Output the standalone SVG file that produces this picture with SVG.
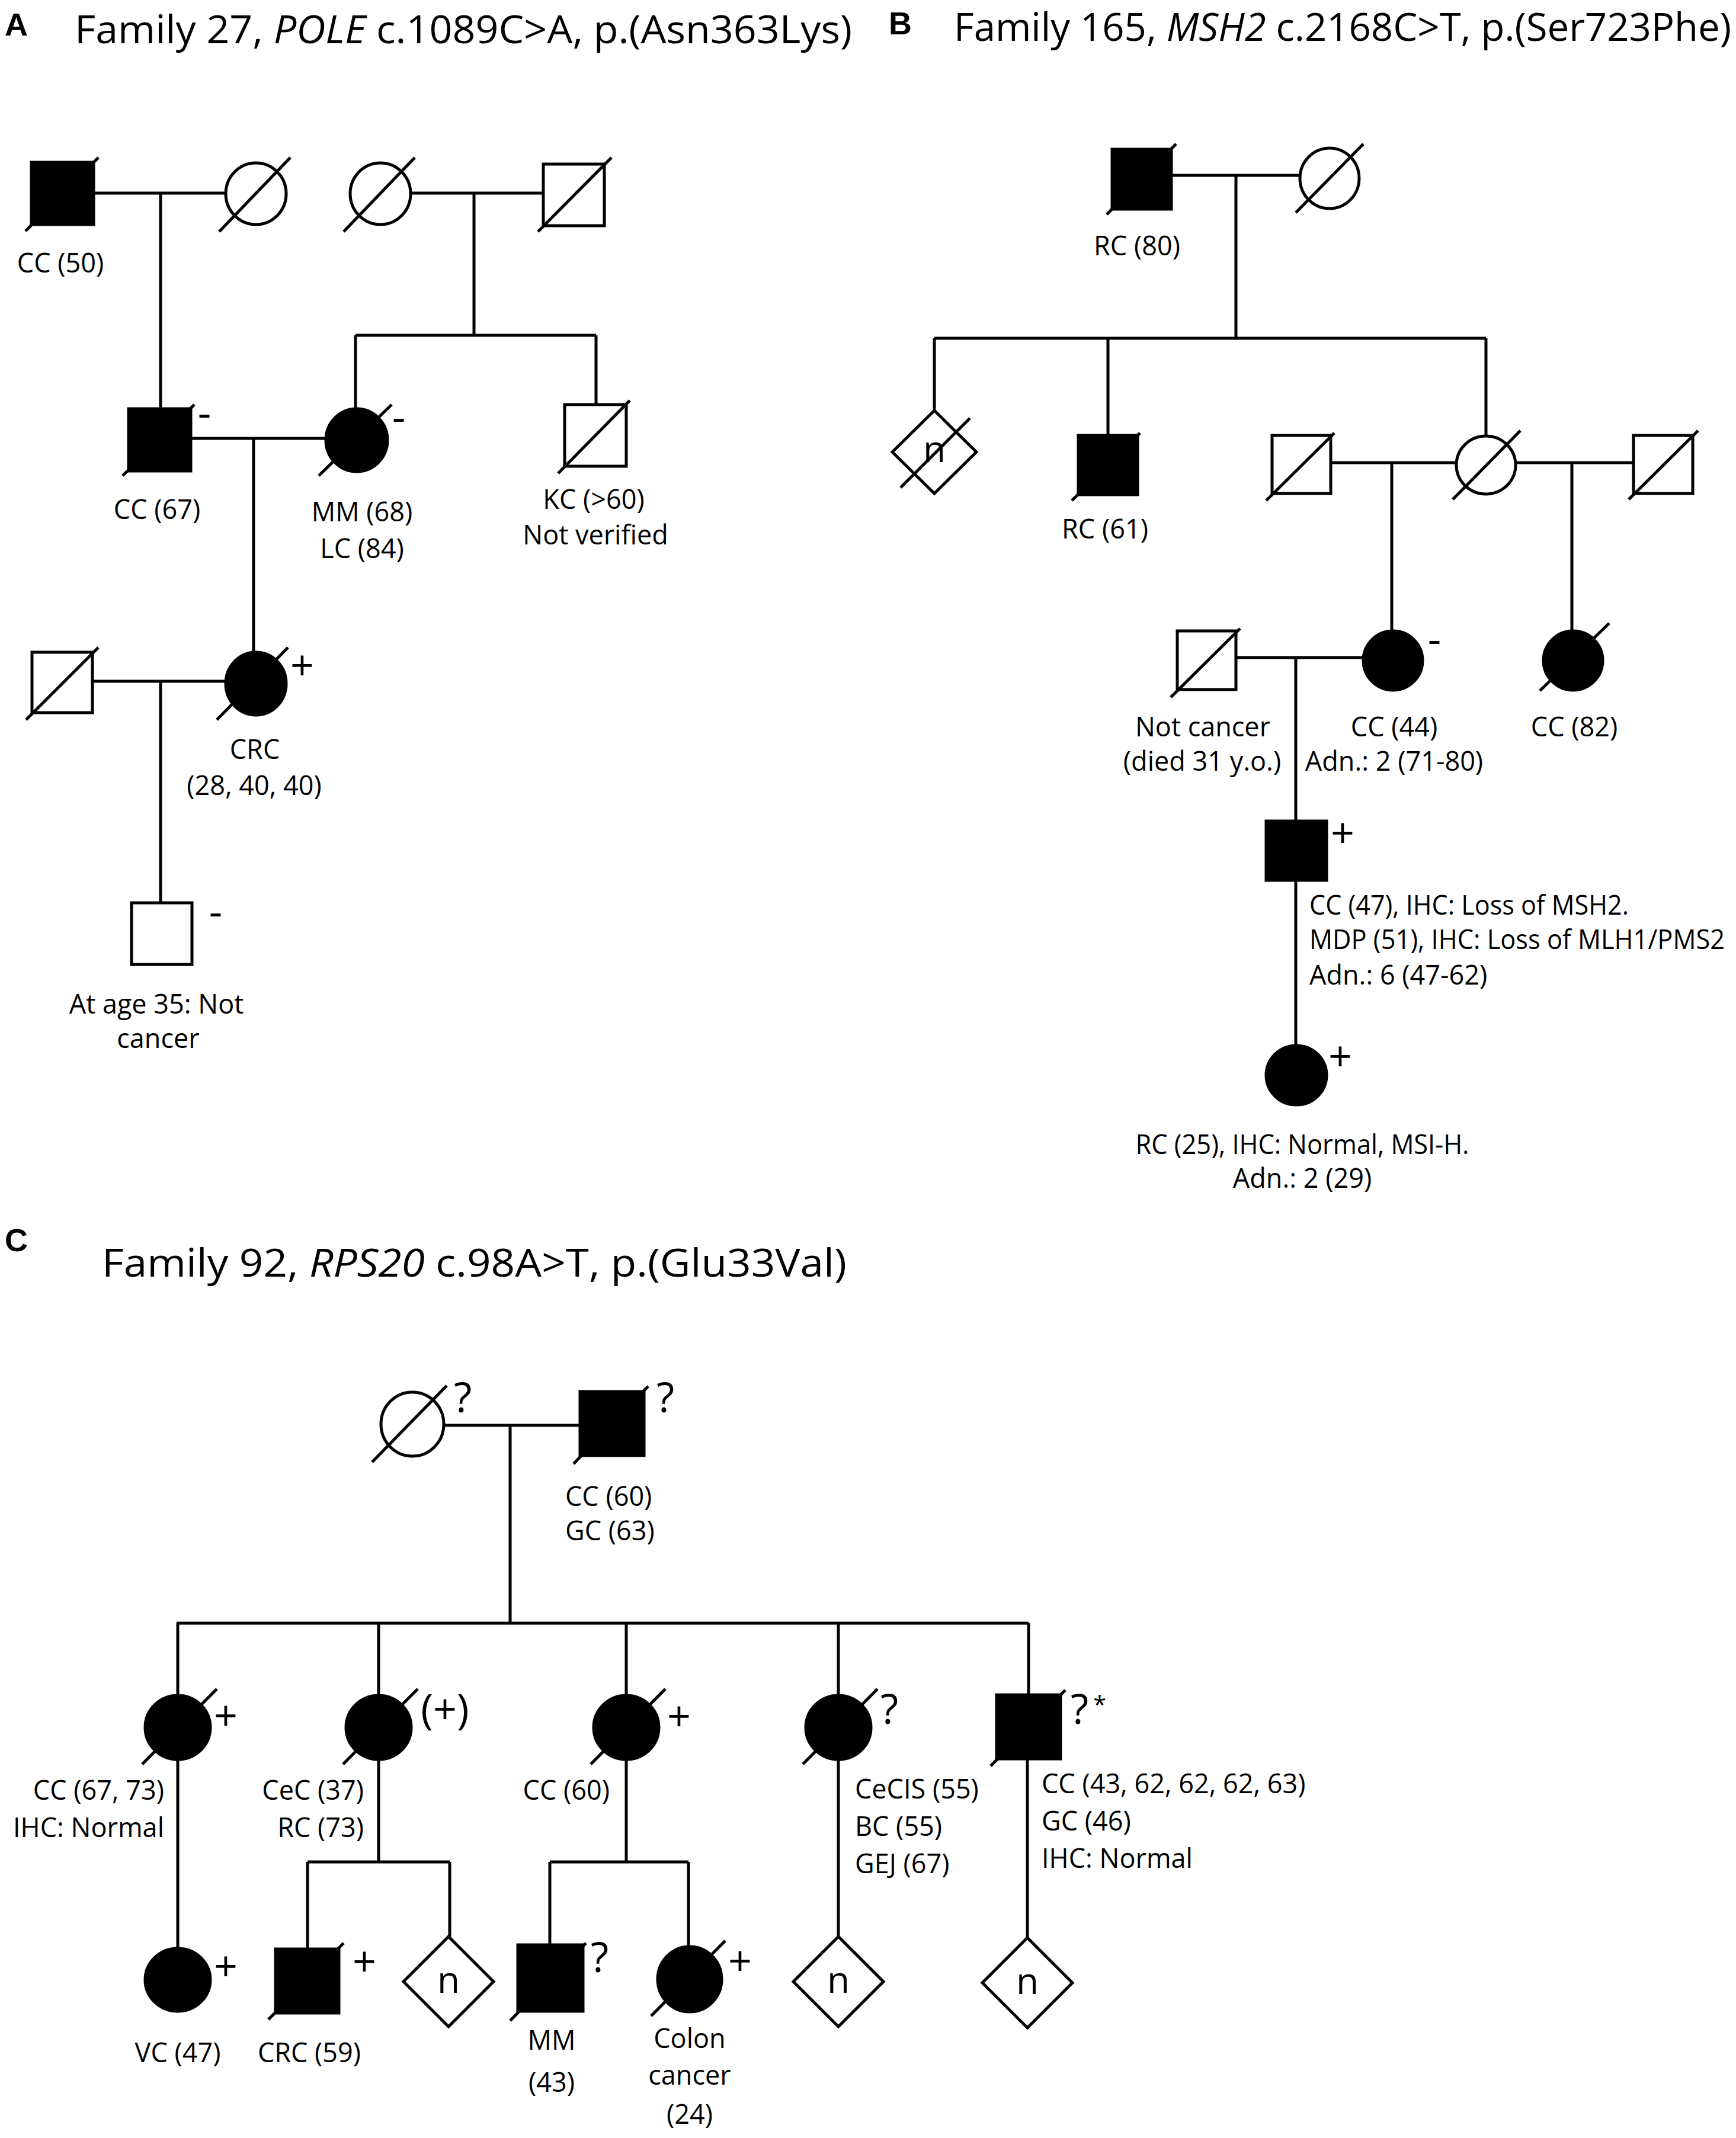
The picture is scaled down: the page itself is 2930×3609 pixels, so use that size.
<svg xmlns="http://www.w3.org/2000/svg" width="2930" height="3609" viewBox="0 0 2930 3609">
<style>
.ln{stroke:#000;stroke-width:5;fill:none}
.f{fill:#000;stroke:#000;stroke-width:5}
.e{fill:#fff;stroke:#000;stroke-width:5}
.sl{stroke:#000;stroke-width:5}
text{font-family:"Open Sans","Noto Sans",sans-serif;fill:#000}
.t{font-size:45px}
.m{font-size:70px}
.n{font-size:62px;text-anchor:middle}
.c{text-anchor:middle}
.r{text-anchor:end}
.ti{font-size:66px}
.pl{font-family:"Liberation Sans",Arial,sans-serif;font-weight:bold;font-size:54px}
</style>
<rect x="0" y="0" width="2930" height="3609" fill="#fff"/>

<!-- Panel labels and titles -->
<g id="titles">
<text class="pl" x="8" y="60">A</text>
<text class="ti" x="126" y="73" textLength="1312" lengthAdjust="spacingAndGlyphs">Family 27, <tspan font-style="italic">POLE</tspan> c.1089C&gt;A, p.(Asn363Lys)</text>
<text class="pl" x="1500" y="58">B</text>
<text class="ti" x="1610" y="69" textLength="1312" lengthAdjust="spacingAndGlyphs">Family 165, <tspan font-style="italic">MSH2</tspan> c.2168C&gt;T, p.(Ser723Phe)</text>
<text class="pl" x="8" y="2112">C</text>
<text class="ti" x="172" y="2155" textLength="1257" lengthAdjust="spacingAndGlyphs">Family 92, <tspan font-style="italic">RPS20</tspan> c.98A&gt;T, p.(Glu33Val)</text>
</g>

<!-- Connectors -->
<g id="connectors" class="ln">
<!-- Panel A -->
<line x1="158" y1="326" x2="381" y2="326"/>
<line x1="271" y1="326" x2="271" y2="690"/>
<line x1="693" y1="326" x2="917" y2="326"/>
<line x1="800" y1="326" x2="800" y2="566"/>
<line x1="600" y1="566" x2="1006" y2="566"/>
<line x1="600" y1="566" x2="600" y2="690"/>
<line x1="1006" y1="566" x2="1006" y2="683"/>
<line x1="322" y1="740" x2="549" y2="740"/>
<line x1="428" y1="740" x2="428" y2="1102"/>
<line x1="156" y1="1150" x2="380" y2="1150"/>
<line x1="271" y1="1150" x2="271" y2="1524"/>
<!-- Panel B -->
<line x1="1977" y1="296" x2="2194" y2="296"/>
<line x1="2086" y1="296" x2="2086" y2="571"/>
<line x1="1577" y1="571" x2="2508" y2="571"/>
<line x1="1577" y1="571" x2="1577" y2="693"/>
<line x1="1870" y1="571" x2="1870" y2="735"/>
<line x1="2508" y1="571" x2="2508" y2="735"/>
<line x1="2246" y1="781" x2="2458" y2="781"/>
<line x1="2559" y1="781" x2="2757" y2="781"/>
<line x1="2349" y1="781" x2="2349" y2="1065"/>
<line x1="2653" y1="781" x2="2653" y2="1065"/>
<line x1="2086" y1="1110" x2="2301" y2="1110"/>
<line x1="2187" y1="1110" x2="2187" y2="1386"/>
<line x1="2187" y1="1486" x2="2187" y2="1765"/>
<!-- Panel C -->
<line x1="750" y1="2406" x2="979" y2="2406"/>
<line x1="861" y1="2406" x2="861" y2="2740"/>
<line x1="298" y1="2740" x2="1736" y2="2740"/>
<line x1="300" y1="2740" x2="300" y2="2862"/>
<line x1="639" y1="2740" x2="639" y2="2862"/>
<line x1="1057" y1="2740" x2="1057" y2="2862"/>
<line x1="1415" y1="2740" x2="1415" y2="2862"/>
<line x1="1736" y1="2740" x2="1736" y2="2861"/>
<line x1="300" y1="2970" x2="300" y2="3289"/>
<line x1="639" y1="2970" x2="639" y2="3143"/>
<line x1="519" y1="3143" x2="759" y2="3143"/>
<line x1="519" y1="3143" x2="519" y2="3290"/>
<line x1="759" y1="3143" x2="759" y2="3269"/>
<line x1="1057" y1="2970" x2="1057" y2="3143"/>
<line x1="928" y1="3143" x2="1162" y2="3143"/>
<line x1="928" y1="3143" x2="928" y2="3283"/>
<line x1="1162" y1="3143" x2="1162" y2="3286"/>
<line x1="1415" y1="2970" x2="1415" y2="3269"/>
<line x1="1734" y1="2969" x2="1734" y2="3271"/>
</g>

<!-- ===== Panel A nodes ===== -->
<g id="A-I-1">
<rect class="f" x="53" y="274" width="105" height="105"/>
<line class="sl" x1="43" y1="390" x2="166" y2="266"/>
<text class="t c" x="102" y="460">CC (50)</text>
</g>
<g id="A-I-2">
<ellipse class="e" cx="432" cy="327" rx="51" ry="52"/>
<line class="sl" x1="370" y1="391" x2="490" y2="266"/>
</g>
<g id="A-I-3">
<ellipse class="e" cx="642" cy="327" rx="51" ry="52"/>
<line class="sl" x1="580" y1="391" x2="700" y2="266"/>
</g>
<g id="A-I-4">
<rect class="e" x="917" y="277" width="103" height="104"/>
<line class="sl" x1="908" y1="391" x2="1032" y2="266"/>
</g>
<g id="A-II-1">
<rect class="f" x="217" y="690" width="105" height="105"/>
<line class="sl" x1="207" y1="803" x2="328" y2="683"/>
<text class="m c" x="345" y="721">-</text>
<text class="t c" x="265" y="876">CC (67)</text>
</g>
<g id="A-II-2">
<ellipse class="f" cx="602" cy="743" rx="52" ry="53"/>
<line class="sl" x1="538" y1="803" x2="661" y2="683"/>
<text class="m c" x="673" y="728">-</text>
<text class="t c" x="611" y="880">MM (68)</text>
<text class="t c" x="611" y="942">LC (84)</text>
</g>
<g id="A-II-3">
<rect class="e" x="953" y="683" width="104" height="104"/>
<line class="sl" x1="942" y1="799" x2="1063" y2="676"/>
<text class="t c" x="1002" y="859">KC (&gt;60)</text>
<text class="t c" x="1005" y="919">Not verified</text>
</g>
<g id="A-III-1">
<rect class="e" x="54" y="1101" width="102" height="102"/>
<line class="sl" x1="44" y1="1215" x2="166" y2="1093"/>
</g>
<g id="A-III-2">
<ellipse class="f" cx="432" cy="1154" rx="51" ry="53"/>
<line class="sl" x1="366" y1="1215" x2="486" y2="1093"/>
<text class="m c" x="510" y="1148">+</text>
<text class="t c" x="430" y="1281">CRC</text>
<text class="t c" x="429" y="1342">(28, 40, 40)</text>
</g>
<g id="A-IV-1">
<rect class="e" x="222" y="1524" width="102" height="104"/>
<text class="m c" x="364" y="1563">-</text>
<text class="t c" x="264" y="1711">At age 35: Not</text>
<text class="t c" x="267" y="1769">cancer</text>
</g>

<!-- ===== Panel B nodes ===== -->
<g id="B-I-1">
<rect class="f" x="1877" y="252" width="100" height="101"/>
<line class="sl" x1="1868" y1="362" x2="1985" y2="243"/>
<text class="t c" x="1919" y="431">RC (80)</text>
</g>
<g id="B-I-2">
<ellipse class="e" cx="2244" cy="301" rx="50" ry="51"/>
<line class="sl" x1="2187" y1="359" x2="2301" y2="243"/>
</g>
<g id="B-II-1">
<polygon class="e" points="1577,693 1648,763 1577,833 1506,763"/>
<text class="n" x="1577" y="780">n</text>
<line class="sl" x1="1520" y1="823" x2="1637" y2="706"/>
</g>
<g id="B-II-2">
<rect class="f" x="1820" y="735" width="100" height="100"/>
<line class="sl" x1="1809" y1="845" x2="1924" y2="731"/>
<text class="t c" x="1865" y="909">RC (61)</text>
</g>
<g id="B-II-3">
<rect class="e" x="2147" y="735" width="99" height="98"/>
<line class="sl" x1="2137" y1="845" x2="2252" y2="731"/>
</g>
<g id="B-II-4">
<ellipse class="e" cx="2508" cy="785" rx="50" ry="49"/>
<line class="sl" x1="2452" y1="843" x2="2566" y2="727"/>
</g>
<g id="B-II-5">
<rect class="e" x="2757" y="735" width="100" height="98"/>
<line class="sl" x1="2749" y1="843" x2="2866" y2="727"/>
</g>
<g id="B-III-1">
<rect class="e" x="1987" y="1065" width="99" height="99"/>
<line class="sl" x1="1976" y1="1177" x2="2093" y2="1061"/>
<text class="t c" x="2030" y="1243">Not cancer</text>
<text class="t c" x="2029" y="1301">(died 31 y.o.)</text>
</g>
<g id="B-III-2">
<ellipse class="f" cx="2351" cy="1115" rx="50" ry="50"/>
<text class="m c" x="2421" y="1103">-</text>
<text class="t c" x="2353" y="1243">CC (44)</text>
<text class="t c" x="2353" y="1301">Adn.: 2 (71-80)</text>
</g>
<g id="B-III-3">
<ellipse class="f" cx="2655" cy="1115" rx="50" ry="50"/>
<line class="sl" x1="2599" y1="1166" x2="2716" y2="1052"/>
<text class="t c" x="2657" y="1243">CC (82)</text>
</g>
<g id="B-IV-1">
<rect class="f" x="2137" y="1386" width="102" height="100"/>
<text class="m c" x="2266" y="1431">+</text>
<text class="t" x="2210" y="1544" textLength="539" lengthAdjust="spacingAndGlyphs">CC (47), IHC: Loss of MSH2.</text>
<text class="t" x="2210" y="1602" textLength="701" lengthAdjust="spacingAndGlyphs">MDP (51), IHC: Loss of MLH1/PMS2</text>
<text class="t" x="2210" y="1662">Adn.: 6 (47-62)</text>
</g>
<g id="B-V-1">
<ellipse class="f" cx="2188" cy="1815" rx="51" ry="50"/>
<text class="m c" x="2262" y="1808">+</text>
<text class="t c" x="2198" y="1948" textLength="563" lengthAdjust="spacingAndGlyphs">RC (25), IHC: Normal,  MSI-H.</text>
<text class="t c" x="2198" y="2005">Adn.: 2 (29)</text>
</g>

<!-- ===== Panel C nodes ===== -->
<g id="C-I-1">
<ellipse class="e" cx="696" cy="2404" rx="53" ry="54"/>
<line class="sl" x1="628" y1="2468" x2="754" y2="2339"/>
<text class="m c" x="781" y="2384">?</text>
</g>
<g id="C-I-2">
<rect class="f" x="979" y="2349" width="108" height="108"/>
<line class="sl" x1="968" y1="2471" x2="1094" y2="2340"/>
<text class="m c" x="1123" y="2384">?</text>
<text class="t" x="954" y="2542">CC (60)</text>
<text class="t" x="954" y="2600">GC (63)</text>
</g>
<g id="C-II-1">
<ellipse class="f" cx="300" cy="2916" rx="55" ry="54"/>
<line class="sl" x1="240" y1="2978" x2="366" y2="2851"/>
<text class="m c" x="381" y="2921">+</text>
<text class="t r" x="277" y="3038">CC (67, 73)</text>
<text class="t r" x="277" y="3101">IHC: Normal</text>
</g>
<g id="C-II-2">
<ellipse class="f" cx="639" cy="2916" rx="55" ry="54"/>
<line class="sl" x1="579" y1="2978" x2="705" y2="2851"/>
<text class="m c" x="751" y="2910">(+)</text>
<text class="t r" x="614" y="3038">CeC (37)</text>
<text class="t r" x="614" y="3101">RC (73)</text>
</g>
<g id="C-II-3">
<ellipse class="f" cx="1057" cy="2916" rx="55" ry="54"/>
<line class="sl" x1="997" y1="2978" x2="1123" y2="2851"/>
<text class="m c" x="1146" y="2922">+</text>
<text class="t r" x="1029" y="3038">CC (60)</text>
</g>
<g id="C-II-4">
<ellipse class="f" cx="1415" cy="2916" rx="55" ry="54"/>
<line class="sl" x1="1355" y1="2978" x2="1481" y2="2851"/>
<text class="m c" x="1501" y="2910">?</text>
<text class="t" x="1443" y="3036">CeCIS (55)</text>
<text class="t" x="1443" y="3099">BC (55)</text>
<text class="t" x="1443" y="3162">GEJ (67)</text>
</g>
<g id="C-II-5">
<rect class="f" x="1682" y="2861" width="108" height="108"/>
<line class="sl" x1="1672" y1="2981" x2="1798" y2="2853"/>
<text class="m c" x="1822" y="2910">?</text>
<text x="1856" y="2892" style="font-size:40px" text-anchor="middle">*</text>
<text class="t" x="1758" y="3027">CC (43, 62, 62, 62, 63)</text>
<text class="t" x="1758" y="3090">GC (46)</text>
<text class="t" x="1758" y="3153">IHC: Normal</text>
</g>
<g id="C-III-1">
<ellipse class="f" cx="300" cy="3342" rx="55" ry="53"/>
<text class="m c" x="381" y="3344">+</text>
<text class="t c" x="300" y="3481">VC (47)</text>
</g>
<g id="C-III-2">
<rect class="f" x="465" y="3290" width="107" height="108"/>
<line class="sl" x1="453" y1="3409" x2="580" y2="3280"/>
<text class="m c" x="615" y="3336">+</text>
<text class="t c" x="522" y="3481">CRC (59)</text>
</g>
<g id="C-III-3">
<polygon class="e" points="757,3269 833,3345 757,3421 681,3345"/>
<text class="n" x="757" y="3364">n</text>
</g>
<g id="C-III-4">
<rect class="f" x="874" y="3283" width="110" height="112"/>
<line class="sl" x1="861" y1="3411" x2="989" y2="3280"/>
<text class="m c" x="1012" y="3329">?</text>
<text class="t c" x="931" y="3460">MM</text>
<text class="t c" x="931" y="3531">(43)</text>
</g>
<g id="C-III-5">
<ellipse class="f" cx="1164" cy="3341" rx="54" ry="55"/>
<line class="sl" x1="1099" y1="3403" x2="1224" y2="3276"/>
<text class="m c" x="1249" y="3335">+</text>
<text class="t c" x="1164" y="3457">Colon</text>
<text class="t c" x="1164" y="3519">cancer</text>
<text class="t c" x="1164" y="3585">(24)</text>
</g>
<g id="C-III-6">
<polygon class="e" points="1415,3269 1491,3345 1415,3421 1339,3345"/>
<text class="n" x="1415" y="3364">n</text>
</g>
<g id="C-III-7">
<polygon class="e" points="1734,3271 1810,3347 1734,3423 1658,3347"/>
<text class="n" x="1734" y="3366">n</text>
</g>
</svg>
